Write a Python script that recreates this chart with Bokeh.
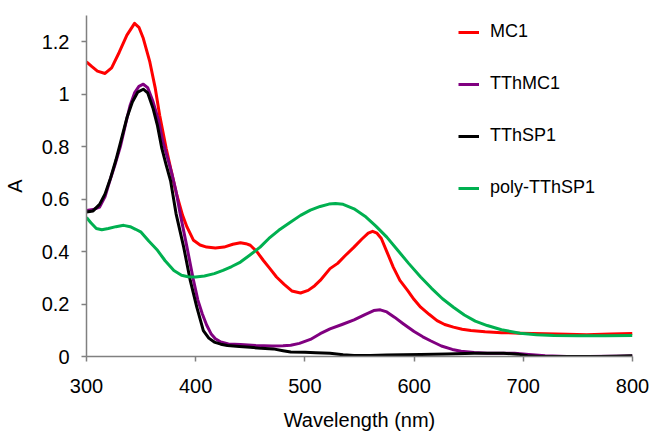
from bokeh.plotting import figure
from bokeh.models import Range1d, FixedTicker, Legend, LegendItem
from bokeh.embed import file_html
from bokeh.resources import INLINE

# ---- data ----
mc1_wl = [300, 305, 310, 317, 323, 330, 337, 344, 348, 352, 358, 363, 367, 373, 378, 382, 388, 392,
          398, 404, 410, 418, 426, 434, 441, 446, 450, 456, 462, 468, 474, 481, 488, 496, 503, 509,
          514, 523, 530, 537, 545, 552, 558, 562, 566, 570, 575, 581, 587, 594, 600, 606, 614, 621,
          628, 636, 644, 652, 665, 680, 697, 720, 740, 758, 780, 800]
mc1_a = [1.123, 1.105, 1.088, 1.079, 1.10, 1.16, 1.225, 1.27, 1.255, 1.213, 1.123, 1.022, 0.92, 0.793,
         0.70, 0.627, 0.538, 0.494, 0.443, 0.425, 0.417, 0.414, 0.417, 0.428, 0.434, 0.43, 0.424, 0.40,
         0.366, 0.335, 0.303, 0.275, 0.25, 0.242, 0.252, 0.27, 0.29, 0.335, 0.355, 0.385, 0.417, 0.447,
         0.47, 0.477, 0.47, 0.45, 0.40, 0.34, 0.29, 0.252, 0.217, 0.188, 0.16, 0.137, 0.122, 0.112,
         0.104, 0.099, 0.094, 0.091, 0.089, 0.087, 0.085, 0.083, 0.086, 0.088]

tthmc1_wl = [300, 306, 312, 317, 321, 326, 331, 336, 340, 344, 348, 352, 356, 361, 366, 370, 374, 378,
             382, 386, 392, 398, 402, 406, 410, 414, 418, 423, 430, 441, 455, 470, 480, 487, 495, 505,
             514, 523, 534, 545, 555, 563, 569, 575, 582, 590, 600, 608, 615, 625, 635, 643, 655, 667,
             680, 692, 705, 720, 740, 760, 780, 800]
tthmc1_a = [0.557, 0.56, 0.57, 0.61, 0.665, 0.73, 0.80, 0.89, 0.958, 1.005, 1.03, 1.038, 1.025, 0.971,
            0.90, 0.818, 0.76, 0.70, 0.63, 0.54, 0.417, 0.29, 0.215, 0.163, 0.12, 0.087, 0.068, 0.055,
            0.048, 0.046, 0.042, 0.04, 0.041, 0.043, 0.05, 0.065, 0.087, 0.105, 0.122, 0.14, 0.16, 0.175,
            0.178, 0.17, 0.15, 0.125, 0.095, 0.075, 0.06, 0.04, 0.027, 0.02, 0.015, 0.012, 0.012, 0.012,
            0.008, 0.003, 0.0, 0.0, 0.001, 0.002]

tthsp1_wl = [300, 306, 312, 317, 322, 327, 332, 337, 342, 347, 352, 356, 361, 365, 369, 373, 377, 382,
             389, 395, 401, 407, 412, 417, 423, 429, 440, 450, 460, 471, 480, 487, 500, 510, 523, 535,
             545, 560, 575, 590, 606, 630, 655, 682, 695, 704, 715, 730, 750, 770, 785, 800]
tthsp1_a = [0.551, 0.555, 0.58, 0.62, 0.68, 0.75, 0.83, 0.91, 0.97, 1.008, 1.019, 1.005, 0.945, 0.88,
            0.793, 0.73, 0.67, 0.545, 0.417, 0.29, 0.188, 0.099, 0.07, 0.055, 0.047, 0.042, 0.038, 0.035,
            0.031, 0.029, 0.022, 0.017, 0.016, 0.014, 0.012, 0.007, 0.004, 0.004, 0.006, 0.007, 0.008,
            0.01, 0.012, 0.012, 0.009, 0.003, 0.0, 0.0, 0.0, 0.0, 0.001, 0.003]

poly_wl = [300, 304, 309, 314, 320, 327, 334, 340, 345, 350, 357, 365, 372, 380, 387, 393, 400, 408,
           417, 425, 433, 441, 450, 459, 467, 476, 486, 496, 505, 514, 522, 528, 535, 545, 555, 565,
           575, 585, 595, 606, 616, 626, 636, 646, 656, 667, 680, 697, 712, 728, 750, 775, 800]
poly_a = [0.53, 0.51, 0.488, 0.483, 0.488, 0.495, 0.50, 0.495, 0.485, 0.474, 0.44, 0.405, 0.365, 0.328,
          0.31, 0.304, 0.303, 0.307, 0.316, 0.328, 0.343, 0.36, 0.388, 0.417, 0.45, 0.481, 0.51, 0.538,
          0.558, 0.572, 0.581, 0.583, 0.58, 0.563, 0.535, 0.497, 0.455, 0.405, 0.355, 0.303, 0.26, 0.22,
          0.188, 0.158, 0.135, 0.118, 0.102, 0.089, 0.083, 0.08, 0.079, 0.079, 0.08]

series_names = ["MC1", "TThMC1", "TThSP1", "poly-TThSP1"]
series_colors = ["#FF0000", "#800080", "#000000", "#00B050"]

x_ticks = [300, 400, 500, 600, 700, 800]
y_ticks = [0, 0.2, 0.4, 0.6, 0.8, 1.0, 1.2]
y_tick_labels = ["0", "0.2", "0.4", "0.6", "0.8", "1", "1.2"]

FONT = "Liberation Sans"

p = figure(width=651, height=433, output_backend="svg", toolbar_location=None,
           x_range=Range1d(300, 800), y_range=Range1d(0, 1.30),
           min_border_left=86, min_border_right=19, min_border_top=15, min_border_bottom=77)
p.outline_line_color = None
p.xgrid.visible = False
p.ygrid.visible = False
p.background_fill_color = "white"

renderers = []
for wl, a, c in [(mc1_wl, mc1_a, series_colors[0]), (tthmc1_wl, tthmc1_a, series_colors[1]),
                 (tthsp1_wl, tthsp1_a, series_colors[2]), (poly_wl, poly_a, series_colors[3])]:
    r = p.line(wl, a, line_color=c, line_width=3, line_join="round")
    renderers.append(r)

for ax in (p.xaxis[0], p.yaxis[0]):
    ax.axis_line_color = "#808080"
    ax.axis_line_width = 1.5
    ax.major_tick_line_color = "#808080"
    ax.major_tick_line_width = 1.5
    ax.major_tick_out = 5
    ax.major_tick_in = 0
    ax.minor_tick_line_color = None
    ax.major_label_text_font = FONT
    ax.major_label_text_font_size = "20px"
    ax.major_label_text_color = "#000000"
    ax.axis_label_text_font = FONT
    ax.axis_label_text_font_size = "20px"
    ax.axis_label_text_font_style = "normal"
    ax.axis_label_text_color = "#000000"

p.xaxis[0].ticker = FixedTicker(ticks=x_ticks)
p.xaxis[0].major_label_standoff = 17
p.xaxis[0].axis_label = "Wavelength (nm)"
p.xaxis[0].axis_label_standoff = 13

p.yaxis[0].ticker = FixedTicker(ticks=y_ticks)
p.yaxis[0].major_label_overrides = {t: l for t, l in zip(y_ticks, y_tick_labels)}
p.yaxis[0].major_label_standoff = 12
p.yaxis[0].axis_label = "A"
p.yaxis[0].axis_label_standoff = 13

legend = Legend(items=[LegendItem(label=n, renderers=[r]) for n, r in zip(series_names, renderers)],
                location=(372, 158))
legend.border_line_color = None
legend.background_fill_alpha = 0
legend.padding = 0
legend.margin = 0
legend.spacing = 31
legend.glyph_width = 21
legend.glyph_height = 20
legend.label_height = 20
legend.label_standoff = 11
legend.label_text_font = FONT
legend.label_text_font_size = "18px"
legend.label_text_color = "#000000"
p.add_layout(legend)

open("out.html", "w").write(file_html(p, INLINE))
